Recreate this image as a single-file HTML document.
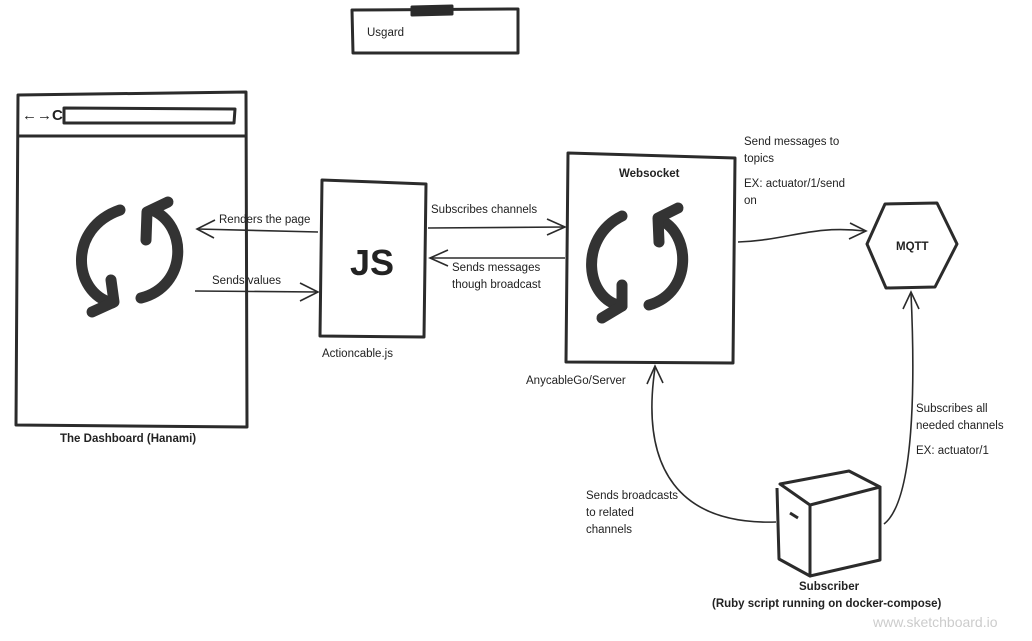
<!DOCTYPE html>
<html><head><style>
body{margin:0;background:#fff;}
svg{display:block;font-family:"Liberation Sans",sans-serif;}
text{font-size:11.5px;fill:#222;}
.b{font-weight:bold;}
</style></head><body>
<svg width="1032" height="641" viewBox="0 0 1032 641" xmlns="http://www.w3.org/2000/svg">
<g fill="none" stroke="#2b2b2b" stroke-width="3" stroke-linejoin="round">
<path d="M352,10 L518,9 L518,53 L353,53 Z"/>
<path d="M412,7 L452,6 L452,14 L412,15 Z" fill="#2b2b2b"/>
<path d="M18,95 L246,92 L247,427 L16,425 Z"/>
<path d="M18,136 L246,136"/>
<path d="M64,108 L235,109 L234,123 L64,123 Z"/>
<path d="M322,180 L426,184 L424,337 L320,336 Z"/>
<path d="M568,153 L735,158 L733,363 L566,362 Z"/>
<path d="M885,204 L937,203 L957,244 L935,287 L886,288 L867,244 Z"/>
<path d="M780,484 L849,471 L880,487 L810,505 Z"/>
<path d="M777,488 L779,559 L810,576 L810,505"/>
<path d="M810,576 L880,560 L880,487"/>
<path d="M790,513 L798,518"/>
</g>
<g fill="none" stroke="#2b2b2b" stroke-width="1.6">
<path d="M318,232 L197,229"/><path d="M215,220 L197,229 L214,238"/>
<path d="M195,291 L318,292"/><path d="M300,283 L318,292 L300,301"/>
<path d="M428,228 L565,227"/><path d="M547,219 L565,227 L547,235"/>
<path d="M565,258 L430,258"/><path d="M448,250 L430,258 L448,266"/>
<path d="M738,242 C790,240 810,225 865,231"/><path d="M850,223 L866,231 L849,239"/>
<path d="M776,522 C680,525 640,470 655,368"/><path d="M647,384 L655,366 L663,383"/>
<path d="M884,524 C915,500 915,380 911,293"/><path d="M903,309 L911,292 L919,309"/>
</g>
<g fill="none" stroke="#333" stroke-width="11" stroke-linecap="round" stroke-linejoin="round">
<path d="M120,210 C68,228 72,292 112,303"/><path d="M92,312 L114,302 L111,280"/>
<path d="M141,298 C188,286 188,225 152,210"/><path d="M146,240 L147,212 L168,202"/>
<path d="M622,216 C578,238 585,300 622,306"/><path d="M602,318 L622,306 L622,285"/>
<path d="M649,305 C694,292 690,232 660,220"/><path d="M659,242 L658,218 L678,208"/>
</g>
<text x="22" y="120" style="font-size:15px;font-weight:bold;">&#8592;&#8594;C</text>
<text x="367" y="36">Usgard</text>
<text x="350" y="275" class="b" style="font-size:36px;">JS</text>
<text x="322" y="357">Actioncable.js</text>
<text x="60" y="442" class="b">The Dashboard (Hanami)</text>
<text x="219" y="223">Renders the page</text>
<text x="212" y="284">Sends values</text>
<text x="431" y="213">Subscribes channels</text>
<text x="452" y="271">Sends messages</text>
<text x="452" y="288">though broadcast</text>
<text x="619" y="177" class="b">Websocket</text>
<text x="526" y="384">AnycableGo/Server</text>
<text x="744" y="145">Send messages to</text>
<text x="744" y="162">topics</text>
<text x="744" y="187">EX: actuator/1/send</text>
<text x="744" y="204">on</text>
<text x="896" y="250" class="b">MQTT</text>
<text x="916" y="412">Subscribes all</text>
<text x="916" y="429">needed channels</text>
<text x="916" y="454">EX: actuator/1</text>
<text x="586" y="499">Sends broadcasts</text>
<text x="586" y="516">to related</text>
<text x="586" y="533">channels</text>
<text x="799" y="590" class="b">Subscriber</text>
<text x="712" y="607" class="b">(Ruby script running on docker-compose)</text>
<text x="873" y="627" style="font-size:14px;fill:#ccc;">www.sketchboard.io</text>
</svg>
</body></html>
